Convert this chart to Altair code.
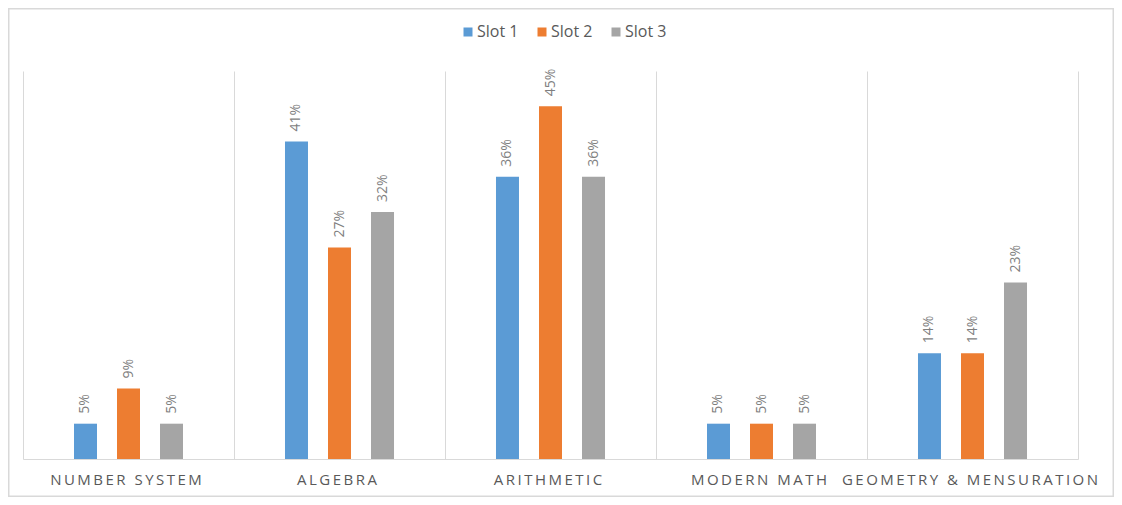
import altair as alt
import pandas as pd

categories = ["NUMBER SYSTEM", "ALGEBRA", "ARITHMETIC", "MODERN MATH", "GEOMETRY & MENSURATION"]
series = ["Slot 1", "Slot 2", "Slot 3"]
slot1 = [0.0455, 0.4091, 0.3636, 0.0455, 0.1364]
slot2 = [0.0909, 0.2727, 0.4545, 0.0455, 0.1364]
slot3 = [0.0455, 0.3182, 0.3636, 0.0455, 0.2273]
colors = ["#5B9BD5", "#ED7D31", "#A5A5A5"]

rows = []
for s, vals in zip(series, [slot1, slot2, slot3]):
    for c, v in zip(categories, vals):
        rows.append({"category": c, "slot": s, "value": v})
df = pd.DataFrame(rows)

W, H = 1055, 388
PL, PT, PR, PB = 15, 63, 36, 38
FONT = "Open Sans"

x_enc = alt.X(
    "category:N",
    sort=categories,
    scale=alt.Scale(paddingInner=0, paddingOuter=0),
    axis=alt.Axis(
        title=None,
        labelAngle=0,
        labelFontSize=15,
        labelColor="#595959",
        labelFont=FONT,
        labelPadding=13,
        labelLimit=500,
        labelOffset=-3,
        labelExpr="join(split(datum.label, ''), '\u2009')",
        ticks=False,
        tickBand="extent",
        grid=True,
        gridColor="#D9D9D9",
        gridWidth=1,
        domainColor="#D9D9D9",
        domainWidth=1,
    ),
)
xo_enc = alt.XOffset(
    "slot:N",
    sort=series,
    scale=alt.Scale(paddingInner=0, paddingOuter=0.953),
)
y_enc = alt.Y("value:Q", scale=alt.Scale(domain=[0, 0.5]), axis=None)

base = alt.Chart(df)

bars = base.mark_bar(width=23).encode(
    x=x_enc,
    xOffset=xo_enc,
    y=y_enc,
    color=alt.Color(
        "slot:N",
        sort=series,
        scale=alt.Scale(domain=series, range=colors),
        legend=alt.Legend(
            title=None,
            orient="none",
            direction="horizontal",
            legendX=437,
            legendY=-47,
            symbolType="square",
            symbolSize=81,
            symbolStrokeWidth=0,
            labelFontSize=16,
            labelColor="#595959",
            labelFont=FONT,
            labelOffset=1,
            columnPadding=15,
        ),
    ),
)

labels = base.mark_text(
    angle=270,
    align="left",
    baseline="middle",
    dx=10,
    fontSize=14,
    font=FONT,
    color="#7F7F7F",
).encode(
    x=alt.X("category:N", sort=categories),
    xOffset=alt.XOffset("slot:N", sort=series),
    y=alt.Y("value:Q"),
    text=alt.Text("value:Q", format=".0%"),
)

border = alt.Chart(pd.DataFrame({"k": [0]})).mark_rect(
    fill=None, stroke="#D9D9D9", strokeWidth=1.5
).encode(
    x=alt.value(-PL + 0.75),
    x2=alt.value(W + PR - 0.75),
    y=alt.value(-PT + 0.75),
    y2=alt.value(H + PB - 0.75),
)

chart = (
    alt.layer(bars, labels, border)
    .properties(
        width=W,
        height=H,
        autosize=alt.AutoSizeParams(type="none"),
        padding={"left": PL, "top": PT, "right": PR, "bottom": PB},
        background="white",
    )
    .configure_view(strokeWidth=0, stroke="transparent")
)

chart.save("out.html", embed_options={"renderer": "svg", "actions": False})
